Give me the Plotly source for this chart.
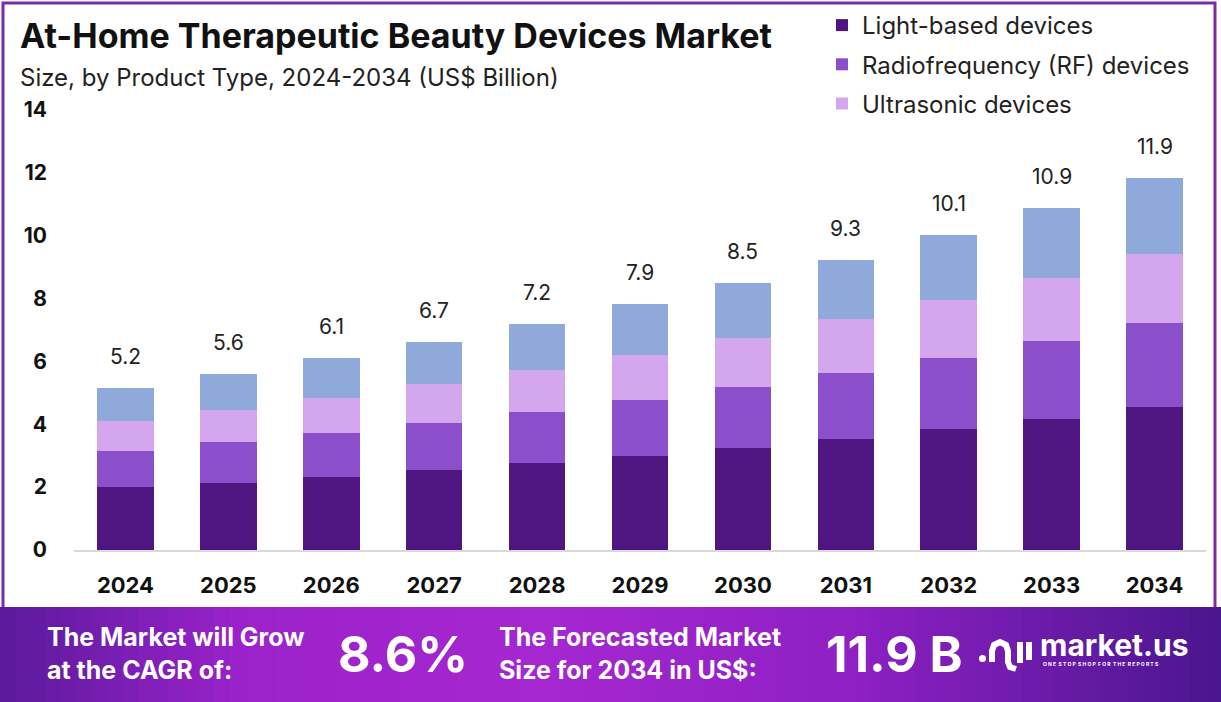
import plotly.graph_objects as go

years = ["2024", "2025", "2026", "2027", "2028", "2029", "2030", "2031", "2032", "2033", "2034"]
light_based = [2.00, 2.13, 2.32, 2.54, 2.77, 2.99, 3.24, 3.53, 3.85, 4.17, 4.55]
radiofrequency = [1.15, 1.30, 1.40, 1.50, 1.62, 1.78, 1.94, 2.10, 2.25, 2.48, 2.67]
ultrasonic = [0.95, 1.02, 1.11, 1.24, 1.33, 1.43, 1.56, 1.71, 1.85, 2.00, 2.19]
others = [1.05, 1.15, 1.27, 1.33, 1.47, 1.62, 1.75, 1.88, 2.07, 2.22, 2.42]
total_labels = ["5.2", "5.6", "6.1", "6.7", "7.2", "7.9", "8.5", "9.3", "10.1", "10.9", "11.9"]
y_ticks = [0, 2, 4, 6, 8, 10, 12, 14]

W, H = 1221, 702
L, R, T, B = 74, 15, 110, 152
PW, PH = W - L - R, H - T - B

def px(x):
    return (x - L) / PW

def py(y):
    return (H - B - y) / PH

FONT = "Inter, Poppins, Lato, sans-serif"
C_DARK = "#4F1580"
C_RF = "#8C4FCB"
C_US = "#D3A6EE"
C_OTH = "#8FA9DA"

fig = go.Figure()
series = [
    ("Light-based devices", light_based, C_DARK, True),
    ("Radiofrequency (RF) devices", radiofrequency, C_RF, True),
    ("Ultrasonic devices", ultrasonic, C_US, True),
    ("Others", others, C_OTH, False),
]
for name, vals, col, show in series:
    fig.add_trace(go.Bar(
        x=years, y=vals, name=name, marker_color=col, marker_line_width=0,
        showlegend=show, legendgroup=name,
    ))

totals = [a + b + c + d for a, b, c, d in zip(light_based, radiofrequency, ultrasonic, others)]
annotations = []
for i, (tot, lab) in enumerate(zip(totals, total_labels)):
    annotations.append(dict(
        x=i, y=tot, xref="x", yref="y", text=lab, showarrow=False,
        yanchor="bottom", yshift=17,
        font=dict(family=FONT, size=21, color="#222222"),
    ))

# Title and subtitle
annotations.append(dict(
    x=px(18), y=py(35), xref="paper", yref="paper", xanchor="left", yanchor="middle",
    text="<b>At-Home Therapeutic Beauty Devices Market</b>", showarrow=False,
    font=dict(family=FONT, size=34, color="#111111"),
))
annotations.append(dict(
    x=px(18), y=py(77), xref="paper", yref="paper", xanchor="left", yanchor="middle",
    text="Size, by Product Type, 2024-2034 (US$ Billion)", showarrow=False,
    font=dict(family=FONT, size=24, color="#222222"),
))

# Banner texts
white = "#FFFFFF"
annotations += [
    dict(x=px(45), y=py(653), xref="paper", yref="paper", xanchor="left", yanchor="middle",
         text="<b>The Market will Grow<br>at the CAGR of:</b>", showarrow=False, align="left",
         font=dict(family=FONT, size=25, color=white)),
    dict(x=px(336), y=py(654), xref="paper", yref="paper", xanchor="left", yanchor="middle",
         text="<b>8.6%</b>", showarrow=False,
         font=dict(family=FONT, size=50, color=white)),
    dict(x=px(497), y=py(653), xref="paper", yref="paper", xanchor="left", yanchor="middle",
         text="<b>The Forecasted Market<br>Size for 2034 in US$:</b>", showarrow=False, align="left",
         font=dict(family=FONT, size=25, color=white)),
    dict(x=px(824), y=py(654), xref="paper", yref="paper", xanchor="left", yanchor="middle",
         text="<b>11.9 B</b>", showarrow=False,
         font=dict(family=FONT, size=50, color=white)),
    dict(x=px(1038), y=py(645), xref="paper", yref="paper", xanchor="left", yanchor="middle",
         text="<b>market.us</b>", showarrow=False,
         font=dict(family=FONT, size=30, color=white)),
    dict(x=px(1041), y=py(664), xref="paper", yref="paper", xanchor="left", yanchor="middle",
         text="<b>O N E  S T O P  S H O P  F O R  T H E  R E P O R T S</b>", showarrow=False,
         font=dict(family=FONT, size=5, color=white)),
]

shapes = []
# Outer border
shapes.append(dict(type="rect", xref="paper", yref="paper",
                   x0=px(3), x1=px(1215), y0=py(612), y1=py(3),
                   line=dict(color="#7B2CA3", width=3), fillcolor="rgba(0,0,0,0)", layer="above"))

# Banner gradient made of strips
stops = [(0.0, (0x5A, 0x1A, 0x9C)), (0.2, (0x9C, 0x22, 0xCB)), (0.45, (0xA5, 0x27, 0xCF)),
         (0.7, (0x8E, 0x20, 0xC4)), (1.0, (0x4A, 0x16, 0x8E))]

def grad(t):
    for (t0, c0), (t1, c1) in zip(stops[:-1], stops[1:]):
        if t0 <= t <= t1:
            f = (t - t0) / (t1 - t0)
            return "rgb(%d,%d,%d)" % tuple(int(round(a + (b - a) * f)) for a, b in zip(c0, c1))
    return "rgb(74,22,142)"

N = 80
for i in range(N):
    x0 = W * i / N
    x1 = W * (i + 1) / N + 1
    shapes.append(dict(type="rect", xref="paper", yref="paper",
                       x0=px(x0), x1=px(x1), y0=py(H + 2), y1=py(607),
                       line=dict(width=0), fillcolor=grad((i + 0.5) / N), layer="above"))

# Logo icon
def pth(points):
    s = "M %f %f" % (px(points[0][0]), py(points[0][1]))
    for x, y in points[1:]:
        s += " L %f %f" % (px(x), py(y))
    return s

shapes.append(dict(type="circle", xref="paper", yref="paper",
                   x0=px(979), x1=px(986), y0=py(662), y1=py(655),
                   fillcolor=white, line=dict(width=0), layer="above"))
shapes.append(dict(type="path", xref="paper", yref="paper",
                   path=pth([(992, 662), (992, 651), (994, 645), (1000, 642), (1006, 645),
                             (1008, 651), (1008, 662), (1010, 667), (1016, 669)]),
                   line=dict(color=white, width=6), layer="above"))
shapes.append(dict(type="line", xref="paper", yref="paper",
                   x0=px(1020), x1=px(1020), y0=py(663), y1=py(642),
                   line=dict(color=white, width=6), layer="above"))
shapes.append(dict(type="line", xref="paper", yref="paper",
                   x0=px(1029), x1=px(1029), y0=py(660), y1=py(642),
                   line=dict(color=white, width=6), layer="above"))

fig.update_layout(
    width=W, height=H,
    margin=dict(l=L, r=R, t=T, b=B, autoexpand=False),
    barmode="stack", bargap=0.45,
    plot_bgcolor="white", paper_bgcolor="white",
    font=dict(family=FONT, color="#111111"),
    showlegend=True,
    legend=dict(
        x=px(822), y=py(3), xanchor="left", yanchor="top",
        traceorder="grouped", tracegroupgap=5,
        font=dict(family=FONT, size=24, color="#222222"),
        bgcolor="rgba(0,0,0,0)", itemclick=False,
    ),
    xaxis=dict(
        type="category", range=[-0.5, len(years) - 0.5], showgrid=False, zeroline=False,
        showline=True, linecolor="#D9D9D9", linewidth=2,
        ticks="", tickfont=dict(family=FONT, size=22, color="#111111", weight="bold"),
        ticklabelstandoff=15,
    ),
    yaxis=dict(
        range=[0, 14], tickvals=y_ticks, showgrid=False, zeroline=False, showline=False,
        ticks="", tickfont=dict(family=FONT, size=21, color="#111111", weight="bold"),
        ticklabelstandoff=26,
    ),
    annotations=annotations,
    shapes=shapes,
)

fig.write_html("out.html", config={"displayModeBar": False},
               post_script="document.body.style.margin='0';document.body.style.overflow='hidden';")
